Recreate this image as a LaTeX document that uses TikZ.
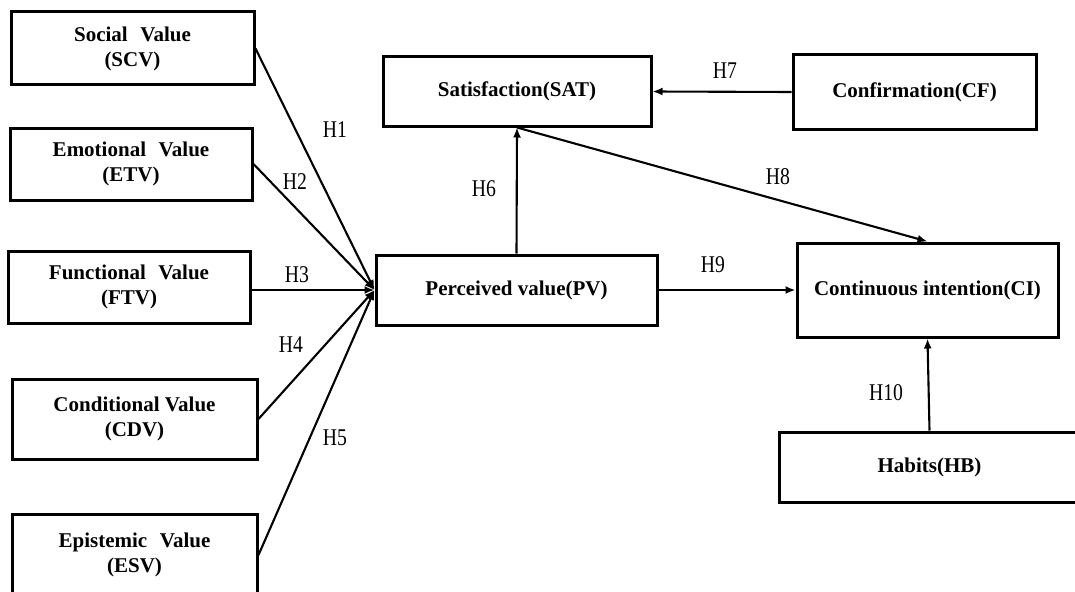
\documentclass[tikz,border=0pt]{standalone}
\usepackage{fontspec}
\setmainfont{Liberation Serif}
\newfontfamily\labfont[FakeStretch=0.82]{Liberation Serif}
\usetikzlibrary{arrows.meta}
\newcommand{\wsp}{\hspace{0.6em}}
\begin{document}
\begin{tikzpicture}[x=1pt,y=-1pt,
  box/.style={draw,line width=3pt,inner sep=0pt,align=center,
    font=\bfseries\fontsize{21}{25}\selectfont},
  conn/.style={line width=2.1pt,-{Latex[length=10pt,width=8pt]}},
  lab/.style={inner sep=0pt,font=\labfont\fontsize{24}{24}\selectfont}]
\useasboundingbox (0,0) rectangle (1075,591);
% left boxes
\node[box,minimum width=243pt,minimum height=73pt] (SCV) at (132.5,48.5) {Social\wsp Value\\(SCV)};
\node[box,minimum width=242pt,minimum height=72pt] (ETV) at (131,164) {Emotional\wsp Value\\(ETV)};
\node[box,minimum width=242pt,minimum height=72pt] (FTV) at (129,287) {Functional\wsp Value\\(FTV)};
\node[box,minimum width=245pt,minimum height=80pt] (CDV) at (134.5,419) {Conditional Value\\(CDV)};
\node[box,minimum width=245pt,minimum height=82pt] (ESV) at (134.5,555) {Epistemic\wsp Value\\(ESV)};
% middle and right boxes
\node[box,minimum width=268pt,minimum height=69pt] (SAT) at (517,91.5) {Satisfaction(SAT)};
\node[box,minimum width=243pt,minimum height=74pt] (CF) at (914.5,92) {Confirmation(CF)};
\node[box,minimum width=281pt,minimum height=70pt] (PV) at (516.5,290) {Perceived value(PV)};
\node[box,minimum width=261pt,minimum height=94pt] (CI) at (927.5,290) {Continuous intention(CI)};
\node[box,minimum width=301pt,minimum height=70pt] (HB) at (929.5,467) {Habits(HB)};
% connectors
\draw[conn] (SCV.east) -- (PV.west);
\draw[conn] (ETV.east) -- (PV.west);
\draw[conn] (FTV.east |- PV.west) -- (PV.west);
\draw[conn] (CDV.east) -- (PV.west);
\draw[conn] (ESV.east) -- (PV.west);
\draw[conn] (PV.north) -- (SAT.south);
\draw[conn] (CF.west) -- (SAT.east);
\draw[conn] (SAT.south) -- (CI.north);
\draw[conn] (PV.east) -- (CI.west);
\draw[conn] (HB.north) -- (CI.south);
% labels
\node[lab] (h1) at (335,130) {H1};
\node[lab] (h2) at (295,182) {H2};
\node[lab] (h3) at (297,275) {H3};
\node[lab] (h4) at (291,345) {H4};
\node[lab] (h5) at (335,438) {H5};
\node[lab] (h6) at (484,189) {H6};
\node[lab] (h7) at (725,71) {H7};
\node[lab] (h8) at (778,177) {H8};
\node[lab] (h9) at (713,265) {H9};
\node[lab] (h10) at (886,393) {H10};
\end{tikzpicture}
\end{document}
